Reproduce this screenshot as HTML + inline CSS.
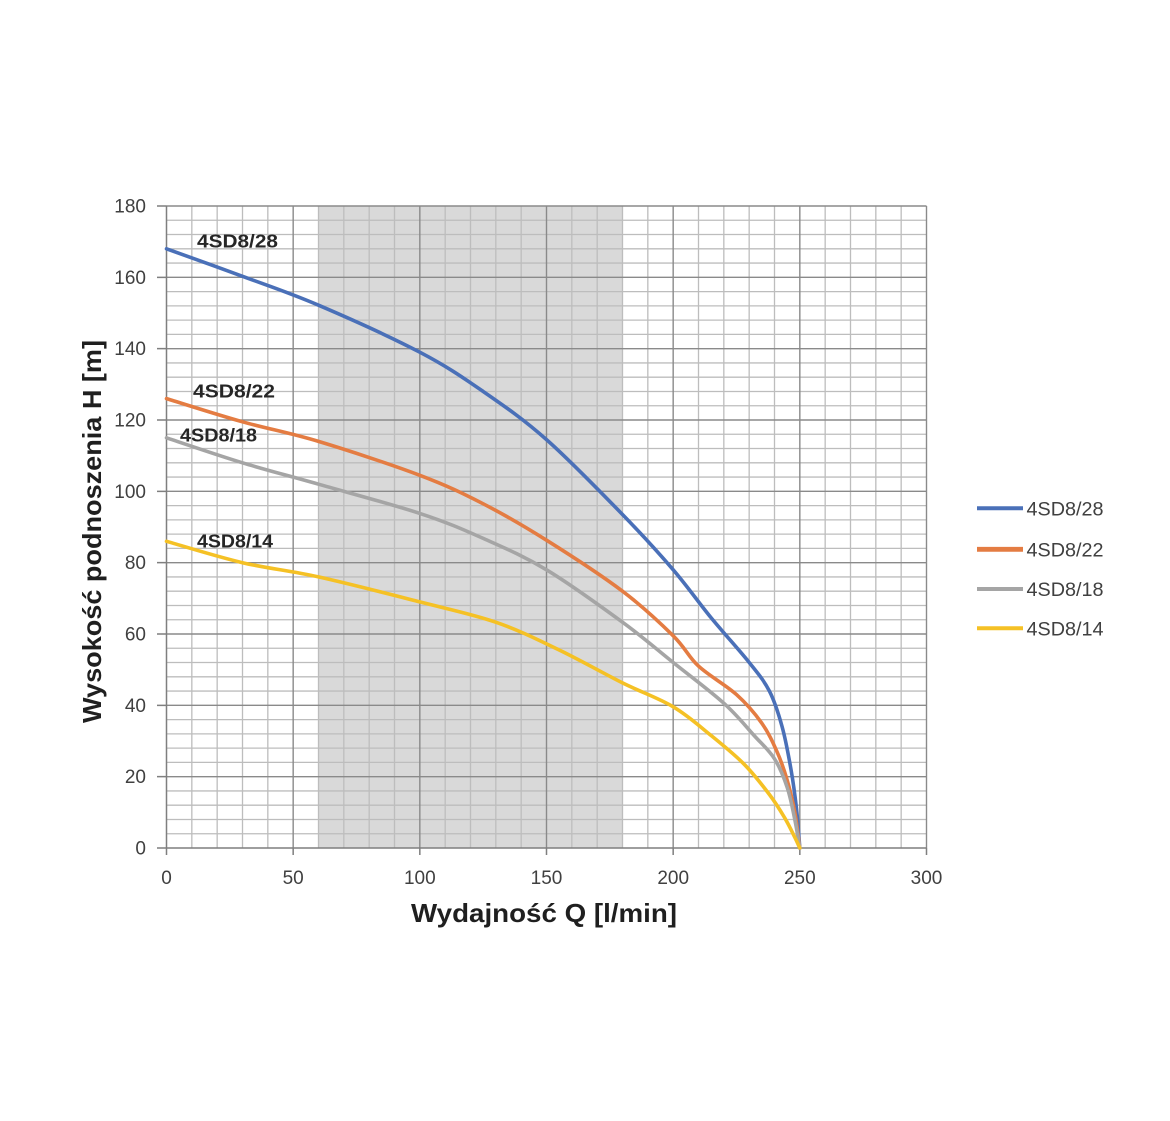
<!DOCTYPE html>
<html>
<head>
<meta charset="utf-8">
<style>
html,body{margin:0;padding:0;background:#fff;}
svg{display:block;}
text{font-family:"Liberation Sans",Arial,sans-serif;}
</style>
</head>
<body>
<svg id="chart" width="1170" height="1121" viewBox="0 0 1170 1121" xmlns="http://www.w3.org/2000/svg">
<rect x="0" y="0" width="1170" height="1121" fill="#ffffff"/>
<!-- shaded band -->
<rect x="318.5" y="206" width="304" height="642" fill="#d9d9d9"/>
<!-- minor grid -->
<path stroke="#bdbdbd" stroke-width="1.3" fill="none" d="
M191.83 206V848 M217.17 206V848 M242.5 206V848 M267.83 206V848
M318.5 206V848 M343.83 206V848 M369.17 206V848 M394.5 206V848
M445.17 206V848 M470.5 206V848 M495.83 206V848 M521.17 206V848
M571.83 206V848 M597.17 206V848 M622.5 206V848 M647.83 206V848
M698.5 206V848 M723.83 206V848 M749.17 206V848 M774.5 206V848
M825.17 206V848 M850.5 206V848 M875.83 206V848 M901.17 206V848
M166.5 833.73H926.5 M166.5 819.47H926.5 M166.5 805.2H926.5 M166.5 790.93H926.5
M166.5 762.4H926.5 M166.5 748.13H926.5 M166.5 733.87H926.5 M166.5 719.6H926.5
M166.5 691.07H926.5 M166.5 676.8H926.5 M166.5 662.53H926.5 M166.5 648.27H926.5
M166.5 619.73H926.5 M166.5 605.47H926.5 M166.5 591.2H926.5 M166.5 576.93H926.5
M166.5 548.4H926.5 M166.5 534.13H926.5 M166.5 519.87H926.5 M166.5 505.6H926.5
M166.5 477.07H926.5 M166.5 462.8H926.5 M166.5 448.53H926.5 M166.5 434.27H926.5
M166.5 405.73H926.5 M166.5 391.47H926.5 M166.5 377.2H926.5 M166.5 362.93H926.5
M166.5 334.4H926.5 M166.5 320.13H926.5 M166.5 305.87H926.5 M166.5 291.6H926.5
M166.5 263.07H926.5 M166.5 248.8H926.5 M166.5 234.53H926.5 M166.5 220.27H926.5
"/>
<!-- major grid -->
<path stroke="#8a8a8a" stroke-width="1.4" fill="none" d="
M293.17 206V848 M419.83 206V848 M546.5 206V848 M673.17 206V848 M799.83 206V848 M926.5 206V848
M166.5 776.67H926.5 M166.5 705.33H926.5 M166.5 634H926.5 M166.5 562.67H926.5
M166.5 491.33H926.5 M166.5 420H926.5 M166.5 348.67H926.5 M166.5 277.33H926.5 M166.5 206H926.5
"/>
<!-- axes + ticks -->
<path stroke="#7f7f7f" stroke-width="1.5" fill="none" d="
M166.5 206V855 M157 848H926.5
M293.17 848V855 M419.83 848V855 M546.5 848V855 M673.17 848V855 M799.83 848V855 M926.5 848V855
M157 776.67H166.5 M157 705.33H166.5 M157 634H166.5 M157 562.67H166.5 M157 491.33H166.5
M157 420H166.5 M157 348.67H166.5 M157 277.33H166.5 M157 206H166.5
"/>
<!-- y tick labels -->
<g font-size="19" fill="#404040" text-anchor="end">
<text x="146" y="854.5">0</text>
<text x="146" y="783.2">20</text>
<text x="146" y="711.8">40</text>
<text x="146" y="640.5">60</text>
<text x="146" y="569.2">80</text>
<text x="146" y="497.8">100</text>
<text x="146" y="426.5">120</text>
<text x="146" y="355.2">140</text>
<text x="146" y="283.8">160</text>
<text x="146" y="212.5">180</text>
</g>
<!-- x tick labels -->
<g font-size="19" fill="#404040" text-anchor="middle">
<text x="166.5" y="884">0</text>
<text x="293.17" y="884">50</text>
<text x="419.83" y="884">100</text>
<text x="546.5" y="884">150</text>
<text x="673.17" y="884">200</text>
<text x="799.83" y="884">250</text>
<text x="926.5" y="884">300</text>
</g>
<!-- axis titles -->
<text x="411" y="922" font-size="26" font-weight="bold" fill="#1f1f1f" textLength="266" lengthAdjust="spacingAndGlyphs">Wydajność Q [l/min]</text>
<text transform="translate(101,531.5) rotate(-90)" text-anchor="middle" font-size="26" font-weight="bold" fill="#1f1f1f" textLength="383" lengthAdjust="spacingAndGlyphs">Wysokość podnoszenia H [m]</text>
<!-- curves -->
<g id="curves" fill="none" stroke-width="3.6" stroke-linejoin="round" stroke-linecap="round">
<polyline class="c" stroke="#4a70b8" points="166.5,248.8 242.5,276.3 318.5,305.2 419.8,352.2 483.2,391.5 546.5,439.6 622.5,514.5 673.2,569.8 711.2,617.9 749.2,662.5 769.4,691.1 782.1,726.7 791.0,769.5 796.5,808.8 799.8,848"/>
<polyline class="c" stroke="#e47c42" points="166.5,398.6 242.5,421.8 318.5,441.4 419.8,475.3 483.2,503.8 546.5,540.2 622.5,591.2 673.2,635.8 698.5,666.1 736.5,694.6 761.8,723.2 777.0,751.7 787.2,780.2 794.8,812.3 799.8,848"/>
<polyline class="c" stroke="#a5a5a5" points="166.5,437.8 242.5,462.8 318.5,484.2 419.8,513.4 483.2,538.4 546.5,569.8 622.5,622.2 673.2,662.5 723.8,703.2 754.2,735.6 774.5,758.8 787.2,787.4 794.8,819.5 799.8,848"/>
<polyline class="c" stroke="#f5c125" points="166.5,541.3 242.5,562.7 318.5,576.9 419.8,601.9 495.8,622.2 559.2,650 622.5,682.9 673.2,706.8 711.2,735.6 744.1,764.2 769.4,794.5 784.6,817.7 794.8,837.3 799.8,848"/>
</g>
<!-- curve labels -->
<g font-size="18" font-weight="bold" fill="#262626">
<text x="197" y="247.5" textLength="81" lengthAdjust="spacingAndGlyphs">4SD8/28</text>
<text x="193" y="397.5" textLength="82" lengthAdjust="spacingAndGlyphs">4SD8/22</text>
<text x="180" y="441.5" textLength="77" lengthAdjust="spacingAndGlyphs">4SD8/18</text>
<text x="197" y="547.5" textLength="76" lengthAdjust="spacingAndGlyphs">4SD8/14</text>
</g>
<!-- legend -->
<g stroke-width="4" stroke-linecap="butt">
<line x1="977" y1="508.3" x2="1023" y2="508.3" stroke="#4a70b8"/>
<line x1="977" y1="549.3" x2="1023" y2="549.3" stroke="#e47c42" stroke-width="4.8"/>
<line x1="977" y1="589" x2="1023" y2="589" stroke="#a5a5a5"/>
<line x1="977" y1="628.3" x2="1023" y2="628.3" stroke="#f5c125"/>
</g>
<g font-size="19" fill="#404040">
<text x="1026.5" y="515.3" textLength="77" lengthAdjust="spacingAndGlyphs">4SD8/28</text>
<text x="1026.5" y="556.3" textLength="77" lengthAdjust="spacingAndGlyphs">4SD8/22</text>
<text x="1026.5" y="596" textLength="77" lengthAdjust="spacingAndGlyphs">4SD8/18</text>
<text x="1026.5" y="635.3" textLength="77" lengthAdjust="spacingAndGlyphs">4SD8/14</text>
</g>
</svg>
<script>
(function(){
  var NS="http://www.w3.org/2000/svg";
  var pls=document.querySelectorAll("polyline.c");
  for(var k=0;k<pls.length;k++){
    var pl=pls[k];
    var raw=pl.getAttribute("points").trim().split(/\s+/);
    var p=[];
    for(var i=0;i<raw.length;i++){var a=raw[i].split(",");p.push([parseFloat(a[0]),parseFloat(a[1])]);}
    var n=p.length;
    var d="M"+p[0][0]+" "+p[0][1];
    for(var i=0;i<n-1;i++){
      var p0=p[i>0?i-1:0],p1=p[i],p2=p[i+1],p3=p[i+2<n?i+2:n-1];
      var c1x=p1[0]+(p2[0]-p0[0])/6,c1y=p1[1]+(p2[1]-p0[1])/6;
      var c2x=p2[0]-(p3[0]-p1[0])/6,c2y=p2[1]-(p3[1]-p1[1])/6;
      d+=" C"+c1x.toFixed(2)+" "+c1y.toFixed(2)+" "+c2x.toFixed(2)+" "+c2y.toFixed(2)+" "+p2[0]+" "+p2[1];
    }
    var path=document.createElementNS(NS,"path");
    path.setAttribute("d",d);
    path.setAttribute("stroke",pl.getAttribute("stroke"));
    pl.parentNode.replaceChild(path,pl);
  }
})();
</script>
</body>
</html>
